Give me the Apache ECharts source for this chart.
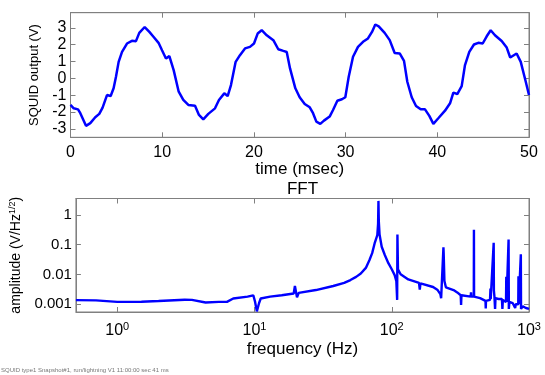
<!DOCTYPE html>
<html>
<head>
<meta charset="utf-8">
<script src="https://cdn.jsdelivr.net/npm/echarts@6.0.0/dist/echarts.min.js"></script>
<style>
  html, body { margin: 0; padding: 0; background: #fff; }
  #chart { width: 545px; height: 375px; }
</style>
</head>
<body>
<div id="chart"></div>
<script>
// time trace (msec, volts)
const timeMs = [0, 0.35, 0.82, 1.07, 1.69, 2.16, 2.7, 3.14, 3.5, 3.98,
  4.38, 4.7, 4.96, 5.25, 5.62, 6.16, 6.7, 7.14, 7.5, 8.09,
  8.6, 9.07, 9.6, 9.98, 10.41, 10.78, 11.25, 11.8, 12.3, 12.85,
  13.58, 14.01, 14.48, 15.03, 15.76, 16.19, 16.77, 17.14, 17.5, 18.01,
  18.48, 19.03, 19.57, 20.01, 20.41, 20.85, 21.4, 22.12, 22.66, 23.21,
  23.58, 23.94, 24.52, 24.99, 25.54, 26.09, 26.45, 26.81, 27.24, 27.64,
  28.26, 28.63, 29.1, 29.6, 29.97, 30.34, 30.81, 31.35, 31.9, 32.44,
  32.88, 33.24, 33.61, 34.26, 34.81, 35.35, 35.9, 36.37, 36.73, 37.21,
  37.68, 38.19, 38.66, 39.13, 39.57, 40.11, 40.84, 41.39, 41.75, 42.18,
  42.66, 43.02, 43.49, 44.0, 44.47, 44.95, 45.39, 45.82, 46.29, 47.02,
  47.57, 47.95, 48.65, 49.1, 49.6, 50];
const squidV = [-1.58, -1.78, -1.84, -2.07, -2.82, -2.66, -2.31, -2.11, -1.74, -0.99,
  -1.05, -0.59, 0.1, 0.98, 1.57, 2.07, 2.23, 2.21, 2.7, 3.05,
  2.76, 2.46, 2.11, 1.67, 1.18, 1.32, 0.49, -0.79, -1.28, -1.58,
  -1.62, -2.17, -2.43, -2.11, -1.78, -1.28, -0.89, -1.05, -0.4, 0.98,
  1.38, 1.78, 1.87, 2.07, 2.66, 2.86, 2.56, 2.27, 1.73, 1.63,
  1.57, 0.59, -0.59, -1.12, -1.52, -1.72, -2.07, -2.57, -2.7, -2.51,
  -2.27, -1.88, -1.33, -1.24, -1.12, 0.1, 1.28, 1.87, 2.17, 2.37,
  2.76, 3.2, 3.09, 2.7, 2.27, 1.51, 1.48, 1.04, -0.2, -1.12,
  -1.64, -1.84, -1.84, -2.23, -2.7, -2.37, -1.92, -1.48, -0.85, -0.93,
  -0.46, 0.79, 1.57, 2.01, 2.11, 2.07, 2.5, 2.86, 2.56, 2.22,
  1.83, 1.24, 1.48, 0.98, -0.1, -0.99];

// spectrum (Hz, V/Hz^1/2)
const fftFreq = [0.5, 0.7, 1, 1.5, 2, 3.1, 3.5, 4.4, 5.5, 6.3,
  7.0, 8.9, 9.8, 10.1, 10.4, 10.8, 11.1, 13, 15.8, 19.3,
  19.7, 20.1, 20.4, 21, 28, 37.5, 45, 50, 55, 59.5,
  65, 68.7, 72, 75, 77, 78.5, 79.5, 80, 80.5, 81.5,
  84.5, 89, 94.5, 100, 105, 108, 109.5, 110, 111, 116,
  132, 158, 160, 162, 200, 216, 226, 229, 238, 239,
  242, 248, 282, 300, 318, 320, 322, 376, 378, 380,
  396, 397, 398, 440, 482, 484, 486, 520, 524, 526,
  553, 555, 560, 566, 570, 600, 635, 640, 645, 680,
  683, 686, 710, 713, 720, 760, 793, 800, 835, 838,
  841, 872, 875, 900, 950, 1000];
const fftAmp = [0.00138, 0.00135, 0.0012, 0.00122, 0.00128, 0.00142, 0.0014, 0.00115, 0.0012, 0.0012,
  0.00156, 0.0018, 0.002, 0.0012, 0.00058, 0.0011, 0.00156, 0.0018, 0.002, 0.0023,
  0.0041, 0.0041, 0.0017, 0.0024, 0.003, 0.0041, 0.0052, 0.0065, 0.0083, 0.0108,
  0.017, 0.03, 0.052, 0.11, 0.16, 0.21, 0.5, 2.95, 0.6, 0.22,
  0.085, 0.045, 0.024, 0.015, 0.0095, 0.006, 0.0014, 0.22, 0.015, 0.0102,
  0.0068, 0.0052, 0.0031, 0.005, 0.0038, 0.003, 0.0022, 0.0016, 0.081, 0.05,
  0.006, 0.0037, 0.003, 0.0025, 0.002, 0.00094, 0.002, 0.0018, 0.0025, 0.0018,
  0.0018, 0.32, 0.0018, 0.0016, 0.0013, 0.00072, 0.0013, 0.0014, 0.0034, 0.0015,
  0.115, 0.0029, 0.0018, 0.0007, 0.0016, 0.0015, 0.0015, 0.0007, 0.0014, 0.0012,
  0.0083, 0.0012, 0.149, 0.0007, 0.0012, 0.0011, 0.00075, 0.001, 0.001, 0.0087,
  0.001, 0.048, 0.0007, 0.00085, 0.00075, 0.0007];

const FONT = '"Liberation Sans", Arial, Helvetica, sans-serif';
const GRAY = '#808080';

let myChart = echarts.init(document.getElementById('chart'));

// helpers for the matlab-ish box axes
function tickStyle() {
  return { show: true, inside: true, length: 5, lineStyle: { color: GRAY, width: 1 } };
}
function lineStyle() {
  return { show: true, onZero: false, lineStyle: { color: GRAY, width: 1 } };
}
function pow10Label(v) {
  let e = Math.log10(v);
  let r = Math.round(e);
  if (Math.abs(e - r) > 1e-6) return '';
  return '{b|10}{s|' + r + '}';
}
function decLabel(v) {
  let e = Math.log10(v);
  let r = Math.round(e);
  if (Math.abs(e - r) > 1e-6) return '';
  return r >= 0 ? String(Math.pow(10, r)) : Math.pow(10, r).toFixed(-r);
}

let option = {
  animation: false,
  backgroundColor: '#fff',
  textStyle: { fontFamily: FONT },
  grid: [
    { left: 70.5, right: 16, top: 12.7, height: 124.6, show: true, borderColor: GRAY, borderWidth: 1 },
    { left: 70.5, right: 16, top: 198.5, height: 113.5, show: true, borderColor: GRAY, borderWidth: 1 }
  ],
  xAxis: [
    {
      gridIndex: 0, type: 'value', min: 0, max: 50, interval: 10, position: 'bottom',
      axisLine: lineStyle(), axisTick: tickStyle(), splitLine: { show: false },
      axisLabel: { color: '#000', fontSize: 16, margin: 7, fontFamily: FONT },
      name: 'time (msec)', nameLocation: 'middle', nameGap: 21,
      nameTextStyle: { color: '#000', fontSize: 17, fontFamily: FONT }
    },
    {
      gridIndex: 0, type: 'value', min: 0, max: 50, interval: 10, position: 'top',
      axisLine: lineStyle(), axisTick: tickStyle(), splitLine: { show: false },
      axisLabel: { show: false }
    },
    {
      gridIndex: 1, type: 'log', logBase: 10, min: 0.5, max: 1000, position: 'bottom',
      axisLine: lineStyle(), axisTick: tickStyle(), splitLine: { show: false },
      axisLabel: {
        color: '#000', margin: 9, formatter: pow10Label,
        rich: {
          b: { fontSize: 16, color: '#000', fontFamily: FONT },
          s: { fontSize: 11, color: '#000', fontFamily: FONT, padding: [0, 0, 9, 0] }
        }
      },
      name: 'frequency (Hz)', nameLocation: 'middle', nameGap: 29,
      nameTextStyle: { color: '#000', fontSize: 17, fontFamily: FONT }
    },
    {
      gridIndex: 1, type: 'log', logBase: 10, min: 0.5, max: 1000, position: 'top',
      axisLine: lineStyle(), axisTick: tickStyle(), splitLine: { show: false },
      axisLabel: { show: false },
      name: 'FFT', nameLocation: 'middle', nameGap: 1,
      nameTextStyle: { color: '#000', fontSize: 17, fontFamily: FONT }
    }
  ],
  yAxis: [
    {
      gridIndex: 0, type: 'value', min: -3.5, max: 3.9, splitNumber: 7, position: 'left',
      axisLine: lineStyle(), axisTick: tickStyle(), splitLine: { show: false },
      axisLabel: { color: '#000', fontSize: 16, margin: 4, showMinLabel: false, showMaxLabel: false, fontFamily: FONT },
      name: 'SQUID output (V)', nameLocation: 'middle', nameGap: 27,
      nameTextStyle: { color: '#000', fontSize: 13, fontFamily: FONT }
    },
    {
      gridIndex: 0, type: 'value', min: -3.5, max: 3.9, splitNumber: 7, position: 'right',
      axisLine: lineStyle(), axisTick: tickStyle(), splitLine: { show: false },
      axisLabel: { show: false }
    },
    {
      gridIndex: 1, type: 'log', logBase: 10, min: 0.00055, max: 3.55, position: 'left',
      axisLine: lineStyle(), axisTick: tickStyle(), splitLine: { show: false },
      axisLabel: { color: '#000', fontSize: 15, margin: 4, formatter: decLabel, fontFamily: FONT },
      name: '{a|amplitude (V/Hz}{s|1/2}{a|)}', nameLocation: 'middle', nameGap: 49,
      nameTextStyle: {
        color: '#000',
        rich: {
          a: { fontSize: 14, color: '#000', fontFamily: FONT },
          s: { fontSize: 9, color: '#000', fontFamily: FONT, padding: [0, 0, 8, 0] }
        }
      }
    },
    {
      gridIndex: 1, type: 'log', logBase: 10, min: 0.00055, max: 3.55, position: 'right',
      axisLine: lineStyle(), axisTick: tickStyle(), splitLine: { show: false },
      axisLabel: { show: false }
    }
  ],
  graphic: [
    {
      type: 'text', left: 1, top: 367,
      style: { text: 'SQUID type1 Snapshot#1, run/lightning V1 11:00:00 sec 41 ms', fontSize: 6, fill: '#777', fontFamily: FONT }
    }
  ],
  series: [
    {
      type: 'line', xAxisIndex: 0, yAxisIndex: 0,
      data: timeMs.map((t, i) => [t, squidV[i]]),
      showSymbol: false, silent: true,
      lineStyle: { color: '#0000ff', width: 2.5 },
      itemStyle: { color: '#0000ff' }
    },
    {
      type: 'line', xAxisIndex: 2, yAxisIndex: 2,
      data: fftFreq.map((f, i) => [f, fftAmp[i]]),
      showSymbol: false, silent: true,
      lineStyle: { color: '#0000ff', width: 2.4 },
      itemStyle: { color: '#0000ff' }
    }
  ]
};

myChart.setOption(option);
</script>
</body>
</html>
